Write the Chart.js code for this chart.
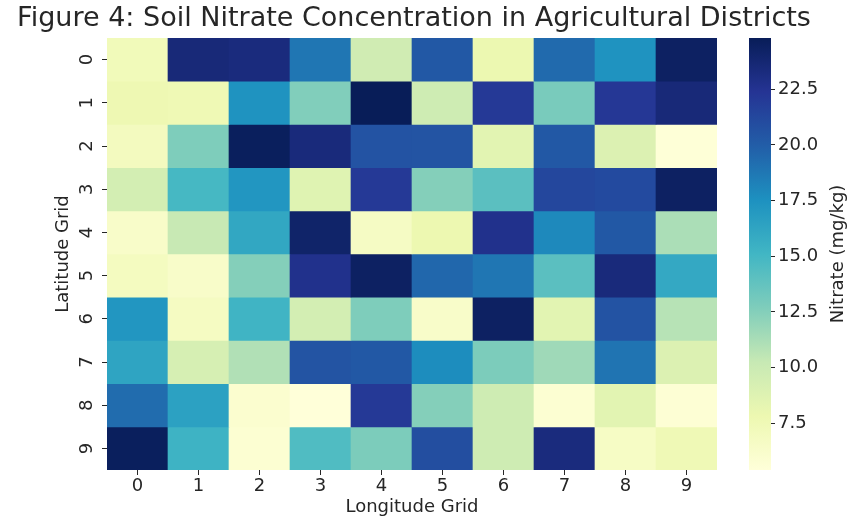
<!DOCTYPE html>
<html lang="en">
<head>
<meta charset="UTF-8">
<title>Soil Nitrate Concentration</title>
<style>
    html, body { margin: 0; padding: 0; background: #fff; }
    #wrap { position: relative; width: 849px; height: 520px; }
    #heat { position: absolute; left: 0; top: 0; }
    #bar { position: absolute; left: 735px; top: 0; }
</style>
</head>
<body>
<div id="wrap">
    <canvas id="heat" width="828" height="520"></canvas>
    <canvas id="bar" width="114" height="520"></canvas>
</div>

<script src="https://cdn.jsdelivr.net/npm/chart.js@4.4.1/dist/chart.umd.min.js"></script>
<script>
    // grid labels
    var lonLabels = ['0', '1', '2', '3', '4', '5', '6', '7', '8', '9'];
    var latLabels = [0, 1, 2, 3, 4, 5, 6, 7, 8, 9];

    // nitrate (mg/kg), one array per latitude row
    var row0 = [7.3, 23.5, 23.3, 18.8, 9.7, 20.3, 7.9, 19.4, 17.4, 24.4];
    var row1 = [7.7, 7.6, 17.4, 12.6, 24.8, 9.8, 22.1, 12.9, 22.2, 23.5];
    var row2 = [7.0, 12.7, 24.6, 23.4, 20.6, 20.5, 8.5, 20.3, 8.9, 5.5];
    var row3 = [9.5, 14.9, 17.2, 8.7, 22.1, 12.5, 14.1, 21.3, 21.1, 24.4];
    var row4 = [6.4, 10.2, 16.1, 24.1, 6.7, 7.8, 22.7, 17.9, 20.3, 11.2];
    var row5 = [6.9, 6.4, 12.5, 22.7, 24.4, 19.5, 18.8, 14.1, 23.4, 16.0];
    var row6 = [17.2, 6.8, 15.2, 9.5, 12.7, 6.4, 24.4, 8.5, 20.6, 10.8];
    var row7 = [16.3, 9.3, 11.0, 20.5, 20.3, 17.7, 12.8, 11.6, 18.9, 8.9];
    var row8 = [19.3, 16.5, 6.0, 5.4, 22.1, 12.5, 9.8, 5.8, 8.5, 5.7];
    var row9 = [24.6, 15.3, 5.8, 14.5, 12.8, 20.9, 9.8, 23.3, 6.6, 7.5];
    var rows = [row0, row1, row2, row3, row4, row5, row6, row7, row8, row9];

    // colorbar ticks
    var colorTicks = [7.5, 10.0, 12.5, 15.0, 17.5, 20.0, 22.5];

    var vmin = Math.min.apply(null, rows.flat());
    var vmax = Math.max.apply(null, rows.flat());

    // YlGnBu
    var cmap = [
        [255, 255, 217], [237, 248, 177], [199, 233, 180], [127, 205, 187], [65, 182, 196],
        [29, 145, 192], [34, 94, 168], [37, 52, 148], [8, 29, 88]
    ];

    function colorFor(v) {
        var t = (v - vmin) / (vmax - vmin);
        t = Math.max(0, Math.min(1, t)) * (cmap.length - 1);
        var i = Math.min(Math.floor(t), cmap.length - 2);
        var f = t - i;
        var a = cmap[i], b = cmap[i + 1];
        var c = [0, 1, 2].map(k => Math.round(a[k] + (b[k] - a[k]) * f));
        return 'rgb(' + c.join(',') + ')';
    }

    var textColor = '#262626';
    var fontFamily = "'DejaVu Sans', sans-serif";

    // one dataset per latitude row, cells are floating bars spanning the row
    var heatDatasets = rows.map((vals, r) => ({
        label: 'Latitude ' + latLabels[r],
        data: vals.map(() => [latLabels[r] - 0.5, latLabels[r] + 0.5]),
        backgroundColor: vals.map(v => colorFor(v)),
        borderWidth: 0,
        borderSkipped: false,
        grouped: false,
        barPercentage: 1,
        categoryPercentage: 1
    }));

    new Chart(document.getElementById('heat'), {
        type: 'bar',
        data: { labels: lonLabels, datasets: heatDatasets },
        options: {
            responsive: false,
            animation: false,
            plugins: {
                legend: { display: false },
                tooltip: { enabled: false },
                title: {
                    display: true,
                    text: 'Figure 4: Soil Nitrate Concentration in Agricultural Districts',
                    color: textColor,
                    font: { family: fontFamily, size: 27, weight: 'normal' },
                    padding: { top: 2.3, bottom: 3.3 }
                }
            },
            scales: {
                x: {
                    type: 'category',
                    offset: true,
                    border: { display: false },
                    grid: { display: true, drawOnChartArea: false, tickLength: 5, tickColor: textColor, offset: false },
                    ticks: { color: textColor, font: { family: fontFamily, size: 18 }, padding: 1, maxRotation: 0 },
                    title: {
                        display: true, text: 'Longitude Grid', color: textColor,
                        font: { family: fontFamily, size: 18 }, padding: { top: 0, bottom: 2 }
                    },
                    afterFit: function (scale) { scale.height = 50; }
                },
                y: {
                    type: 'linear',
                    reverse: true,
                    min: latLabels[0] - 0.5,
                    max: latLabels[latLabels.length - 1] + 0.5,
                    border: { display: false },
                    grid: { display: true, drawOnChartArea: false, tickLength: 5, tickColor: textColor },
                    afterBuildTicks: function (scale) { scale.ticks = latLabels.map(v => ({ value: v })); },
                    ticks: {
                        color: textColor, font: { family: fontFamily, size: 18 },
                        minRotation: 90, maxRotation: 90, crossAlign: 'center', padding: 9
                    },
                    title: {
                        display: true, text: 'Latitude Grid', color: textColor,
                        font: { family: fontFamily, size: 18 }, padding: { top: 53, bottom: 0 }
                    },
                    afterFit: function (scale) { scale.width = 107; }
                },
                // empty right axis that leaves room for the colorbar
                yRoom: {
                    position: 'right',
                    grid: { display: false },
                    border: { display: false },
                    ticks: { display: false },
                    afterFit: function (scale) { scale.width = 111; }
                }
            }
        }
    });

    // colorbar: one floating bar over the value range, filled with the colormap
    var cbarTitle = {
        id: 'cbarTitle',
        afterDraw: function (chart) {
            var ctx = chart.ctx, area = chart.chartArea;
            ctx.save();
            ctx.translate(103, (area.top + area.bottom) / 2);
            ctx.rotate(-Math.PI / 2);
            ctx.fillStyle = textColor;
            ctx.font = "18px 'DejaVu Sans', sans-serif";
            ctx.textAlign = 'center';
            ctx.textBaseline = 'middle';
            ctx.fillText('Nitrate (mg/kg)', 0, 0);
            ctx.restore();
        }
    };

    new Chart(document.getElementById('bar'), {
        type: 'bar',
        data: {
            labels: ['Nitrate'],
            datasets: [{
                data: [[vmin, vmax]],
                borderWidth: 0,
                borderSkipped: false,
                barPercentage: 1,
                categoryPercentage: 1,
                backgroundColor: function (c) {
                    var area = c.chart.chartArea;
                    if (!area) return 'rgb(255,255,217)';
                    var g = c.chart.ctx.createLinearGradient(0, area.bottom, 0, area.top);
                    cmap.forEach((rgb, i) => g.addColorStop(i / (cmap.length - 1), 'rgb(' + rgb.join(',') + ')'));
                    return g;
                }
            }]
        },
        options: {
            responsive: false,
            animation: false,
            layout: { padding: { left: 14, right: 0, top: 38, bottom: 50 } },
            plugins: { legend: { display: false }, tooltip: { enabled: false } },
            scales: {
                x: { display: false },
                y: {
                    position: 'right',
                    min: vmin,
                    max: vmax,
                    border: { display: false },
                    grid: { display: true, drawOnChartArea: false, tickLength: 4, tickColor: textColor },
                    afterBuildTicks: function (scale) { scale.ticks = colorTicks.map(v => ({ value: v })); },
                    ticks: {
                        color: textColor, font: { family: fontFamily, size: 18 }, padding: 3,
                        callback: function (v) { return Number(v).toFixed(1); }
                    },
                    afterFit: function (scale) { scale.width = 78; }
                }
            }
        },
        plugins: [cbarTitle]
    });
</script>
</body>
</html>
